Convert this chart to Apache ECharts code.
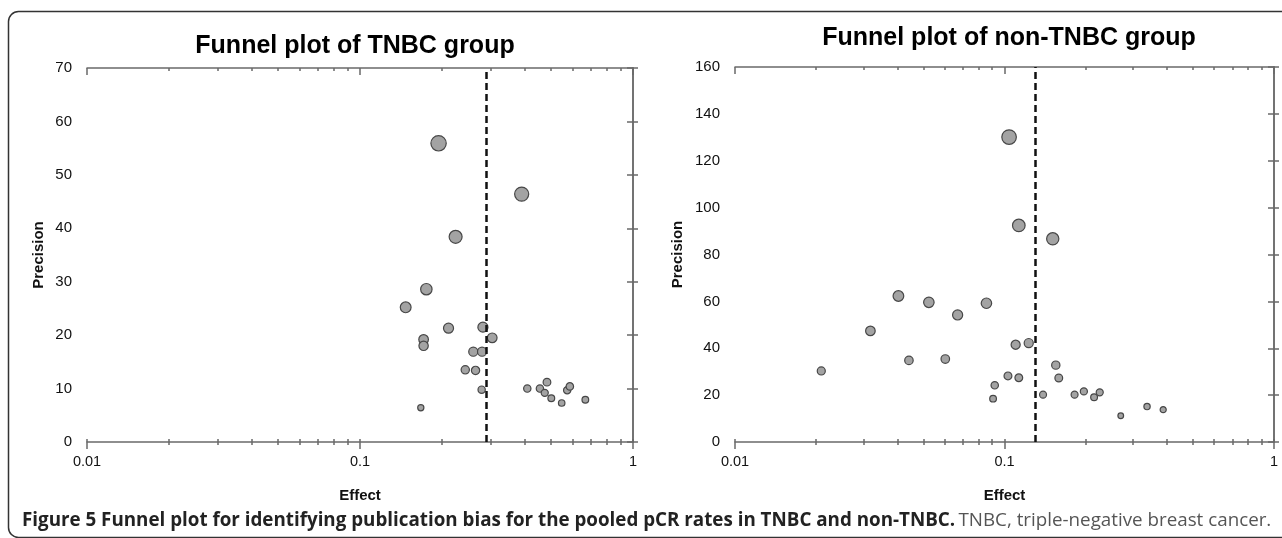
<!DOCTYPE html>
<html>
<head>
<meta charset="utf-8">
<script src="https://cdn.jsdelivr.net/npm/echarts@6/dist/echarts.min.js"></script>
<style>
html,body{margin:0;padding:0;background:#fff;}
#chart{width:1282px;height:538px;}
</style>
</head>
<body>
<div id="chart"></div>
<script>
// ---- data ----
const titles = ['Funnel plot of TNBC group', 'Funnel plot of non-TNBC group'];
const xName = 'Effect';
const yName = 'Precision';

const tnbcEffect = [0.194, 0.391, 0.224, 0.175, 0.147, 0.211, 0.282, 0.305, 0.171, 0.171,
                    0.260, 0.280, 0.243, 0.265, 0.279, 0.167, 0.410, 0.484, 0.456, 0.475,
                    0.502, 0.548, 0.574, 0.587, 0.669];
const tnbcPrecision = [55.9, 46.4, 38.4, 28.6, 25.2, 21.3, 21.5, 19.5, 19.2, 18.0,
                       16.9, 16.9, 13.5, 13.4, 9.8, 6.4, 10.0, 11.2, 10.0, 9.2,
                       8.2, 7.3, 9.7, 10.4, 7.9];

const nonEffect = [0.104, 0.113, 0.151, 0.0404, 0.0524, 0.0857, 0.067, 0.0318, 0.110, 0.123,
                   0.0442, 0.0603, 0.0209, 0.155, 0.159, 0.103, 0.113, 0.092, 0.0907, 0.139,
                   0.182, 0.197, 0.215, 0.2256, 0.270, 0.338, 0.388];
const nonPrecision = [130.1, 92.4, 86.7, 62.3, 59.6, 59.2, 54.2, 47.4, 41.5, 42.2,
                      34.8, 35.4, 30.3, 32.8, 27.3, 28.2, 27.4, 24.2, 18.5, 20.2,
                      20.2, 21.6, 19.1, 21.2, 11.2, 15.1, 13.8];

const pooledEffect = [0.29, 0.126];

const xMajorTicks = [0.01, 0.1, 1];
const xMinorTicks = [0.02, 0.03, 0.04, 0.05, 0.06, 0.07, 0.08, 0.09,
                     0.2, 0.3, 0.4, 0.5, 0.6, 0.7, 0.8, 0.9];
const yMax = [70, 160];
const yInterval = [10, 20];

const caption = 'Figure 5 Funnel plot for identifying publication bias for the pooled pCR rates in TNBC and non-TNBC.';
const captionNote = 'TNBC, triple-negative breast cancer.';

// ---- presentation ----
const FONT = '"Liberation Sans", Arial, sans-serif';
const AX = '#6a6a6a';
const grids = [
  {left: 87, right: 649, top: 68, bottom: 96},
  {left: 735, right: 8, top: 67, bottom: 96}
];
const sizeCoef = [[1.85, 1.5], [1.1, 2.0]];
const titlePos = [[355, 46], [1009, 38]];
const nameGaps = [41, 50];

const log = v => Math.log10(v);
const xAxes = [], yAxes = [], series = [];
const datasets = [[tnbcEffect, tnbcPrecision], [nonEffect, nonPrecision]];

grids.forEach((g, gi) => {
  const lineStyle = {color: AX, width: 1.5};
  const xBase = xAxes.length;
  xAxes.push({
    type: 'log', logBase: 10, gridIndex: gi, position: 'bottom', min: 0.01, max: 1,
    axisLine: {show: true, lineStyle},
    axisTick: {show: true, length: 7, lineStyle},
    minorTick: {show: false},
    splitLine: {show: false},
    axisLabel: {show: true, fontSize: 14.5, margin: 12, color: '#111', fontFamily: FONT,
                formatter: v => String(+v.toPrecision(3))},
    name: xName, nameLocation: 'middle', nameGap: 46,
    nameTextStyle: {fontSize: 15, fontWeight: 'bold', color: '#111', fontFamily: FONT}
  });
  // minor ticks below the axis
  xAxes.push({
    type: 'value', gridIndex: gi, position: 'bottom', min: -2, max: 0,
    axisLine: {show: false}, splitLine: {show: false}, axisLabel: {show: false},
    axisTick: {show: true, length: 3, lineStyle, customValues: xMinorTicks.map(log)}
  });
  // ticks above the bottom axis (inside)
  xAxes.push({
    type: 'value', gridIndex: gi, position: 'bottom', min: -2, max: 0,
    axisLine: {show: false}, splitLine: {show: false}, axisLabel: {show: false},
    axisTick: {show: true, inside: true, length: 3, lineStyle,
               customValues: xMinorTicks.concat(xMajorTicks).map(log)}
  });
  // top border with inside ticks
  xAxes.push({
    type: 'value', gridIndex: gi, position: 'top', min: -2, max: 0,
    axisLine: {show: true, lineStyle}, splitLine: {show: false}, axisLabel: {show: false},
    axisTick: {show: true, inside: true, length: 3, lineStyle, customValues: xMinorTicks.map(log)}
  });
  xAxes.push({
    type: 'value', gridIndex: gi, position: 'top', min: -2, max: 0,
    axisLine: {show: false}, splitLine: {show: false}, axisLabel: {show: false},
    axisTick: {show: true, inside: true, length: 7, lineStyle, customValues: xMajorTicks.map(log)}
  });

  const yBase = yAxes.length;
  yAxes.push({
    type: 'value', gridIndex: gi, position: 'left', min: 0, max: yMax[gi], interval: yInterval[gi],
    axisLine: {show: true, lineStyle},
    axisTick: {show: true, length: 6, lineStyle},
    splitLine: {show: false},
    axisLabel: {fontSize: 15, margin: 15, color: '#111', fontFamily: FONT},
    name: yName, nameLocation: 'middle', nameGap: nameGaps[gi], nameRotate: 90,
    nameTextStyle: {fontSize: 15, fontWeight: 'bold', color: '#111', fontFamily: FONT}
  });
  yAxes.push({
    type: 'value', gridIndex: gi, position: 'left', min: 0, max: yMax[gi], interval: yInterval[gi],
    axisLine: {show: false}, splitLine: {show: false}, axisLabel: {show: false},
    axisTick: {show: true, inside: true, length: 5, lineStyle}
  });
  yAxes.push({
    type: 'value', gridIndex: gi, position: 'right', min: 0, max: yMax[gi], interval: yInterval[gi],
    axisLine: {show: true, lineStyle}, splitLine: {show: false}, axisLabel: {show: false},
    axisTick: {show: true, inside: true, length: 5, lineStyle}
  });

  const [ex, pr] = datasets[gi];
  const [a, b] = sizeCoef[gi];
  series.push({
    type: 'scatter', xAxisIndex: xBase, yAxisIndex: yBase,
    data: ex.map((e, i) => [e, pr[i]]),
    symbol: 'circle',
    symbolSize: v => a * Math.sqrt(v[1]) + b,
    itemStyle: {color: '#a3a3a3', borderColor: '#474747', borderWidth: 1.2, opacity: 1},
    markLine: {
      silent: true, symbol: ['none', 'none'], label: {show: false},
      lineStyle: {type: [7, 4], color: '#111', width: 2.5},
      emphasis: {disabled: true},
      animation: false,
      data: [{xAxis: pooledEffect[gi]}]
    },
    animation: false
  });
});

const graphic = [
  {type: 'rect', shape: {x: 8.5, y: 11.5, width: 1300, height: 526, r: 10},
   style: {fill: 'none', stroke: '#333', lineWidth: 1.5}, silent: true},
  ...titles.map((t, i) => ({
    type: 'text', x: titlePos[i][0], y: titlePos[i][1],
    style: {text: t, fill: '#000', font: 'bold 25px ' + FONT, textAlign: 'center', textVerticalAlign: 'middle'}
  })),
  {type: 'text', x: 22, y: 521,
   style: {
     text: '{b|' + caption + '} {n|' + captionNote + '}',
     textVerticalAlign: 'middle', textAlign: 'left',
     rich: {
       b: {fontFamily: '"Open Sans", "Noto Sans", sans-serif', fontSize: 18.8, fontWeight: 'bold', fill: '#222'},
       n: {fontFamily: '"Open Sans", "Noto Sans", sans-serif', fontSize: 18.8, fontWeight: 'normal', fill: '#555'}
     }
   }}
];

const chart = echarts.init(document.getElementById('chart'), null, {renderer: 'canvas'});
chart.setOption({
  animation: false,
  backgroundColor: '#fff',
  grid: grids,
  xAxis: xAxes,
  yAxis: yAxes,
  series: series,
  graphic: graphic
});
</script>
</body>
</html>
